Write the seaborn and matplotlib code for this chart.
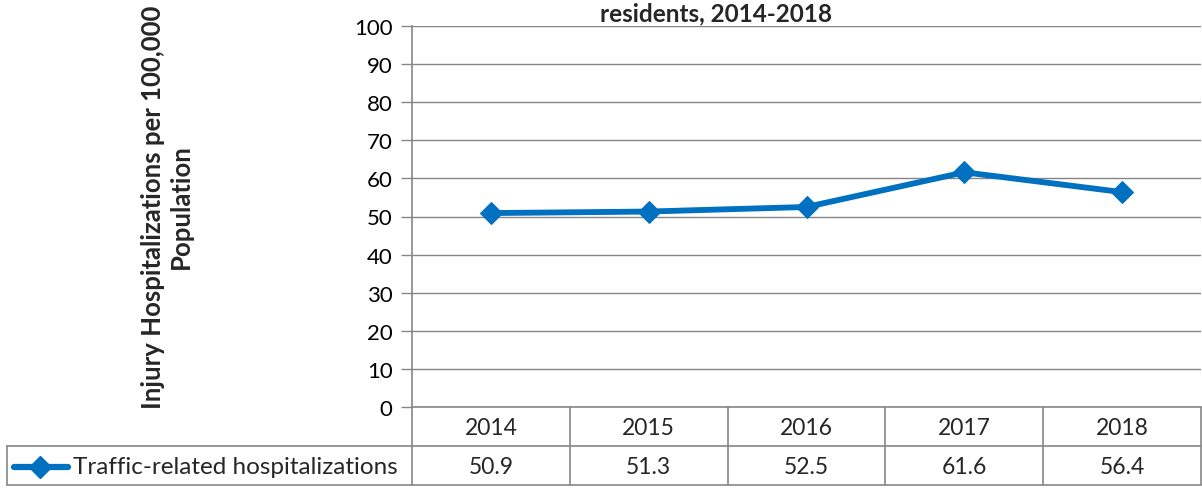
import matplotlib
matplotlib.use("Agg")
import matplotlib.pyplot as plt
import seaborn as sns
import pandas as pd
from matplotlib.lines import Line2D

years = ["2014", "2015", "2016", "2017", "2018"]
values = [50.9, 51.3, 52.5, 61.6, 56.4]
series_name = "Traffic-related hospitalizations"
title_text = "residents, 2014-2018"
ylabel_text = "Injury Hospitalizations per 100,000\nPopulation"
yticks = list(range(0, 101, 10))

sns.set_theme(style="white")
plt.rcParams['font.family'] = ['Lato', 'DejaVu Sans']

W, H = 1202, 489
fig = plt.figure(figsize=(W / 100, H / 100), dpi=100)
ax = fig.add_axes([412 / W, 1 - 408 / H, 789 / W, 381 / H])

df = pd.DataFrame({"year": years, "value": values})
df["pos"] = range(len(years))
line_color = "#0070C0"
grid_color = "#868686"
fs = 16.5

sns.lineplot(data=df, x="pos", y="value", ax=ax, color=line_color, linewidth=4.2,
             marker="D", markersize=11, markeredgecolor=line_color, zorder=5)

ax.set_xlim(-0.5, len(years) - 0.5)
ax.set_ylim(0, 100)
ax.set_yticks(yticks)
ax.set_yticklabels([str(t) for t in yticks], fontsize=16)
ax.set_xticks([])
ax.set_xlabel("")
ax.set_ylabel("")
for t in yticks:
    ax.axhline(t, color=grid_color, lw=1, zorder=1)
for s in ["top", "right", "bottom"]:
    ax.spines[s].set_visible(False)
ax.spines["left"].set_color(grid_color)
ax.spines["left"].set_linewidth(1.2)
ax.tick_params(axis="y", which="both", left=True, length=8, width=1, color=grid_color,
               pad=6, labelcolor="black")

# Title (only visible second line)
fig.text(716 / W, 1 - 2 / H, title_text, ha="center", va="top", fontsize=17.5,
         fontweight="bold")

# Y label
fig.text(167 / W, 1 - 207 / H, ylabel_text, ha="center", va="center", rotation=90,
         fontsize=18.5, fontweight="bold", linespacing=1.2)

# Data table
row1_top, row1_bot, row2_bot = 408, 447, 486
left_x = 7
def fy(py):
    return 1 - py / H
def fx(px):
    return px / W

col_w = 789 / len(years)
col_edges = [412 + i * col_w for i in range(len(years) + 1)]
lw = 1.2
fig.add_artist(Line2D([fx(412), fx(1201)], [fy(row1_top), fy(row1_top)], color=grid_color, lw=lw))
fig.add_artist(Line2D([fx(left_x), fx(1201)], [fy(row1_bot), fy(row1_bot)], color=grid_color, lw=lw))
fig.add_artist(Line2D([fx(left_x), fx(1201)], [fy(row2_bot), fy(row2_bot)], color=grid_color, lw=lw))
fig.add_artist(Line2D([fx(left_x), fx(left_x)], [fy(row1_bot), fy(row2_bot)], color=grid_color, lw=lw))
for xe in col_edges:
    fig.add_artist(Line2D([fx(xe), fx(xe)], [fy(row1_top), fy(row2_bot)], color=grid_color, lw=lw))

for i, (yr, v) in enumerate(zip(years, values)):
    cx = (col_edges[i] + col_edges[i + 1]) / 2
    fig.text(fx(cx), fy((row1_top + row1_bot) / 2 + 1), yr, ha="center", va="center", fontsize=fs)
    fig.text(fx(cx), fy((row1_bot + row2_bot) / 2 + 1), f"{v:.1f}", ha="center", va="center", fontsize=fs)

# legend key in table
ly = fy((row1_bot + row2_bot) / 2 + 1)
fig.add_artist(Line2D([fx(14), fx(68)], [ly, ly], color=line_color, lw=4.5, solid_capstyle="round"))
fig.add_artist(Line2D([fx(40)], [ly], color=line_color, marker="D", markersize=11, lw=0))
fig.text(fx(73), fy((row1_bot + row2_bot) / 2 + 1), series_name, ha="left", va="center", fontsize=17.5)

fig.savefig("out.png", dpi=100)
